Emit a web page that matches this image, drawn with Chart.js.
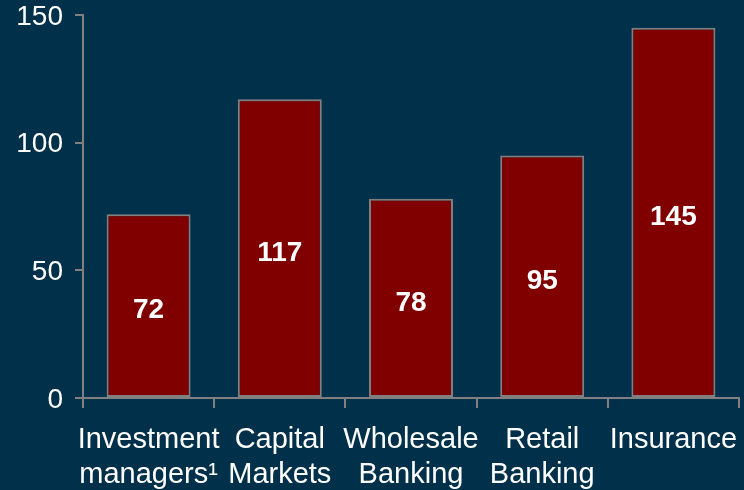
<!DOCTYPE html>
<html>
<head>
<meta charset="utf-8">
<script src="https://cdn.jsdelivr.net/npm/chart.js@4/dist/chart.umd.min.js"></script>
<style>
  html, body { margin: 0; padding: 0; background: #00304a; }
  #wrap { width: 744px; height: 490px; }
</style>
</head>
<body>
<div id="wrap"><canvas id="myChart" width="744" height="490"></canvas></div>
<script>
"use strict";

var categories = [
    ["Investment", "managers\u00B9"],
    ["Capital", "Markets"],
    ["Wholesale", "Banking"],
    ["Retail", "Banking"],
    ["Insurance"]
];
var values = [72, 117, 78, 95, 145];
var yTicks = [0, 50, 100, 150];

var axisGray = '#808080';
var fontFamily = '"Liberation Sans", Arial, sans-serif';

// writes each bar's value in the middle of the bar
var barValues = {
    id: 'barValues',
    afterDatasetsDraw: function (chart) {
        var c = chart.ctx;
        var meta = chart.getDatasetMeta(0);
        c.save();
        c.fillStyle = '#ffffff';
        c.font = 'bold 28px ' + fontFamily;
        c.textAlign = 'center';
        c.textBaseline = 'middle';
        meta.data.forEach(function (bar, i) {
            var mid = (bar.y + bar.base) / 2;
            c.fillText(String(values[i]), bar.x, mid + 5);
        });
        c.restore();
    }
};

var ctx = document.getElementById('myChart').getContext('2d');

var myChart = new Chart(ctx, {
    type: 'bar',
    data: {
        labels: categories,
        datasets: [{
            data: values,
            backgroundColor: '#800000',
            borderColor: axisGray,
            borderWidth: 2,
            borderSkipped: false,
            barPercentage: 0.8,
            categoryPercentage: 0.8
        }]
    },
    plugins: [barValues],
    options: {
        responsive: false,
        animation: false,
        layout: {
            padding: { top: 15, right: 5, left: 0, bottom: 0 }
        },
        plugins: {
            legend: { display: false },
            tooltip: { enabled: false }
        },
        scales: {
            x: {
                grid: {
                    offset: true,
                    drawOnChartArea: false,
                    color: axisGray,
                    lineWidth: 2,
                    tickLength: 10
                },
                border: { color: axisGray, width: 2 },
                ticks: {
                    color: '#ffffff',
                    padding: 15,
                    maxRotation: 0,
                    autoSkip: false,
                    font: { family: fontFamily, size: 29, lineHeight: 1.2 }
                },
                afterFit: function (scale) {
                    scale.height = 92;
                    scale.paddingLeft = 0;
                    scale.paddingRight = 0;
                }
            },
            y: {
                min: 0,
                max: 150,
                afterBuildTicks: function (scale) {
                    scale.ticks = yTicks.map(function (v) { return { value: v }; });
                },
                grid: {
                    drawOnChartArea: false,
                    color: axisGray,
                    lineWidth: 2,
                    tickLength: 8
                },
                border: { color: axisGray, width: 2 },
                ticks: {
                    color: '#ffffff',
                    padding: 12,
                    labelOffset: 2,
                    font: { family: fontFamily, size: 28 }
                },
                afterFit: function (scale) {
                    scale.width = 83;
                    scale.paddingTop = 0;
                    scale.paddingBottom = 0;
                }
            }
        }
    }
});
</script>
</body>
</html>
